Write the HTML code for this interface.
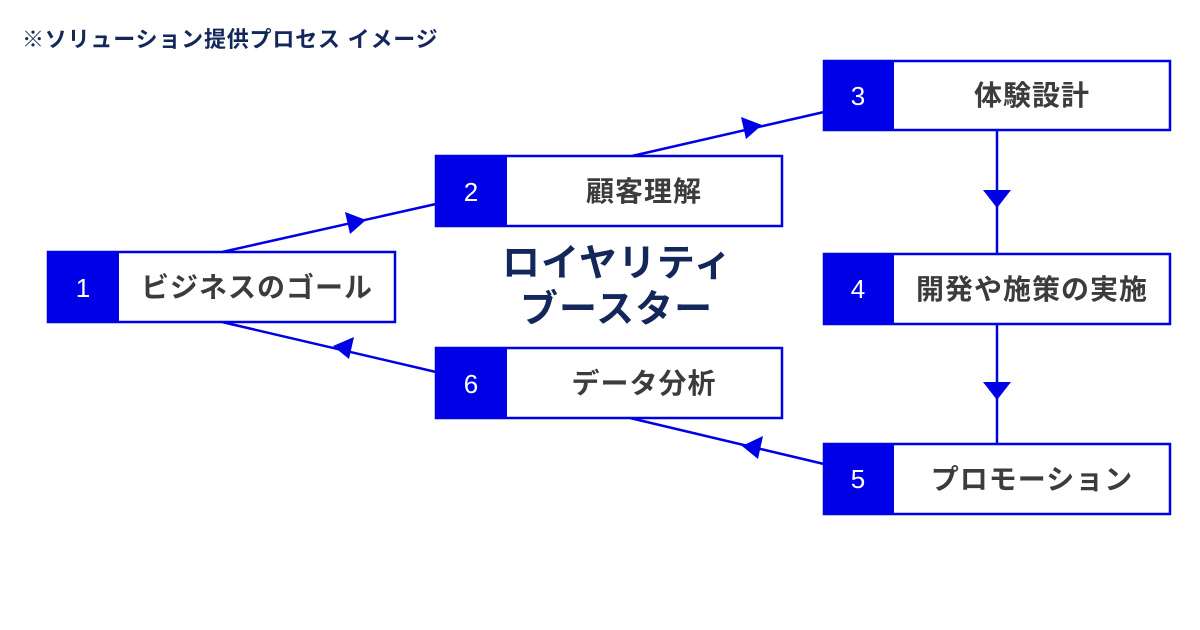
<!DOCTYPE html>
<html><head><meta charset="utf-8"><style>
html,body{margin:0;padding:0;background:#fff;}
svg{display:block;}
text{font-family:"Liberation Sans","Noto Sans CJK JP",sans-serif;}
</style></head><body>
<svg width="1200" height="630" viewBox="0 0 1200 630" xmlns="http://www.w3.org/2000/svg">
<rect width="1200" height="630" fill="#fff"/>
<text x="22" y="47" font-size="22" font-weight="bold" fill="#14275a" letter-spacing="0.8">※ソリューション提供プロセス イメージ</text>

<g stroke="#0000e6" stroke-width="2.5" fill="none">
<line x1="222" y1="252" x2="436" y2="204"/>
<line x1="632" y1="156" x2="824" y2="112"/>
<line x1="997" y1="130" x2="997" y2="254"/>
<line x1="997" y1="324" x2="997" y2="444"/>
<line x1="824" y1="464" x2="630" y2="418"/>
<line x1="436" y1="372" x2="222" y2="322"/>
</g>
<g fill="#0000e6">
<polygon points="366,220 345,212 350,234"/>
<polygon points="762,125 741,117 746,139"/>
<polygon points="997,208 983,190 1011,190"/>
<polygon points="997,400 983,382 1011,382"/>
<polygon points="742,446 763,436 758,459"/>
<polygon points="333,346 354,337 349,359"/>
</g>

<g stroke="#0000e6" stroke-width="2.5">
<rect x="48" y="252" width="347" height="70" fill="#fff"/>
<rect x="436" y="156" width="346" height="70" fill="#fff"/>
<rect x="824" y="61" width="346" height="69" fill="#fff"/>
<rect x="824" y="254" width="346" height="70" fill="#fff"/>
<rect x="824" y="444" width="346" height="70" fill="#fff"/>
<rect x="436" y="348" width="346" height="70" fill="#fff"/>
</g>
<g fill="#0000e6">
<rect x="47" y="251" width="72" height="72"/>
<rect x="435" y="155" width="72" height="72"/>
<rect x="823" y="60" width="71" height="71"/>
<rect x="823" y="253" width="71" height="72"/>
<rect x="823" y="443" width="71" height="72"/>
<rect x="435" y="347" width="72" height="72"/>
</g>
<g fill="#fff" font-size="26" text-anchor="middle">
<text x="83" y="297">1</text>
<text x="471" y="201">2</text>
<text x="858" y="105">3</text>
<text x="858" y="298">4</text>
<text x="858" y="488">5</text>
<text x="471" y="393">6</text>
</g>
<g fill="#3c3c3c" font-size="28" font-weight="bold" text-anchor="middle" letter-spacing="1">
<text x="257" y="297">ビジネスのゴール</text>
<text x="644" y="201">顧客理解</text>
<text x="1032" y="105">体験設計</text>
<text x="1032" y="299">開発や施策の実施</text>
<text x="1032" y="489">プロモーション</text>
<text x="644" y="393">データ分析</text>
</g>
<g fill="#14275a" font-size="38" font-weight="bold" letter-spacing="1">
<text x="502" y="276">ロイヤリティ</text>
<text x="520" y="322">ブースター</text>
</g>
</svg>
</body></html>
